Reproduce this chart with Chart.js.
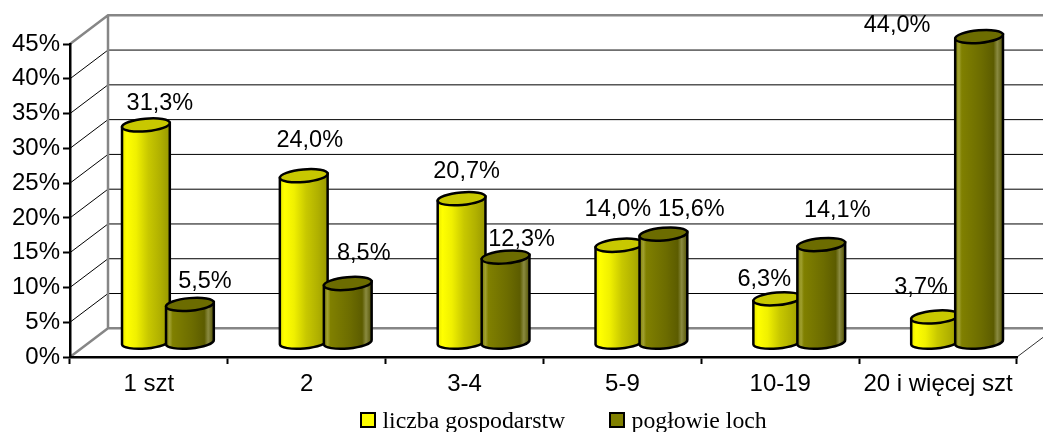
<!DOCTYPE html>
<html>
<head>
<meta charset="utf-8">
<style>
    html, body { margin: 0; background: #fff; }
    #wrap { width: 1043px; height: 432px; }
</style>
<script src="https://cdn.jsdelivr.net/npm/chart.js@4/dist/chart.umd.min.js"></script>
</head>
<body>
<div id="wrap"><canvas id="chart"></canvas></div>
<script>
// Values
const categories = ['1 szt', '2', '3-4', '5-9', '10-19', '20 i więcej szt'];
const householdShare = [31.3, 24.0, 20.7, 14.0, 6.3, 3.7];
const sowShare = [5.5, 8.5, 12.3, 15.6, 14.1, 44.0];
const seriesNames = ['liczba gospodarstw', 'pogłowie loch'];
const yTickLabels = ['0%', '5%', '10%', '15%', '20%', '25%', '30%', '35%', '40%', '45%'];

// Hand placed data labels in the original, so each one has its own nudge from the cylinder top
const householdLabelNudge = [[14, -21.5], [6, -35], [5, -27], [-1.5, -35.5], [-13, -19.5], [-14, -29.5]];
const sowLabelNudge = [[15, -22.5], [16, -30.5], [16, -17.5], [28, -24.5], [16, -34.5], [-82, -11.5]];

const DEPTH_X = 38;
const DEPTH_Y = 28.7;
const TILT = -0.09;
const TOP_RY = 6.3;
const FONT = '"Liberation Sans", Arial, sans-serif';

const yellowStops = [[0, '#e8e800'], [0.1, '#ffff00'], [0.3, '#f0f000'], [0.55, '#c8c800'], [0.8, '#b0b000'], [1, '#989800']];
const oliveStops = [[0, '#7a7a00'], [0.08, '#a0a030'], [0.14, '#808000'], [0.55, '#6c6c00'], [0.8, '#5c5c00'], [0.88, '#8a8a40'], [1, '#505000']];
const legendSwatchX = [361, 610];
const swatchColors = ['#ffff00', '#808000'];

function drawWalls(chart) {
    const { ctx, chartArea: { left, right }, scales: { y } } = chart;
    const backLeft = left + DEPTH_X;
    const backRight = right + DEPTH_X;

    ctx.save();
    // gridlines: diagonal on the side wall, then across the back wall
    ctx.strokeStyle = '#000';
    ctx.lineWidth = 1;
    y.ticks.forEach(tick => {
        if (tick.value === 0 || tick.value === 45) return;
        const py = y.getPixelForValue(tick.value);
        ctx.beginPath();
        ctx.moveTo(left, py);
        ctx.lineTo(backLeft, py - DEPTH_Y);
        ctx.lineTo(backRight, py - DEPTH_Y);
        ctx.stroke();
    });

    const top = y.getPixelForValue(45);
    const bottom = y.getPixelForValue(0);
    ctx.strokeStyle = '#868686';
    ctx.lineWidth = 2.5;
    ctx.beginPath();
    ctx.moveTo(left, top);
    ctx.lineTo(backLeft, top - DEPTH_Y);
    ctx.lineTo(backRight, top - DEPTH_Y);
    ctx.moveTo(backLeft, top - DEPTH_Y);
    ctx.lineTo(backLeft, bottom - DEPTH_Y);
    ctx.lineTo(backRight, bottom - DEPTH_Y);
    ctx.moveTo(left, bottom);
    ctx.lineTo(backLeft, bottom - DEPTH_Y);
    ctx.stroke();

    // front edge of the floor on the right
    ctx.strokeStyle = '#333';
    ctx.lineWidth = 1;
    ctx.beginPath();
    ctx.moveTo(right, bottom);
    ctx.lineTo(backRight, bottom - DEPTH_Y);
    ctx.stroke();
    ctx.restore();
}

function drawCylinder(ctx, bar, stops) {
    const rx = bar.width / 2;
    const cx = bar.x + DEPTH_X / 2;
    const topY = bar.y - DEPTH_Y / 2;
    const baseY = bar.base - DEPTH_Y / 2;
    const endX = rx * Math.cos(TILT);
    const endY = rx * Math.sin(TILT);

    const shade = ctx.createLinearGradient(cx - rx, 0, cx + rx, 0);
    stops.forEach(([at, color]) => shade.addColorStop(at, color));

    ctx.save();
    ctx.lineWidth = 2.5;
    ctx.strokeStyle = '#000';

    ctx.beginPath();
    ctx.moveTo(cx + endX, topY + endY);
    ctx.lineTo(cx + endX, baseY + endY);
    ctx.ellipse(cx, baseY, rx, TOP_RY, TILT, 0, Math.PI);
    ctx.lineTo(cx - endX, topY - endY);
    ctx.closePath();
    ctx.fillStyle = shade;
    ctx.fill();
    ctx.stroke();

    ctx.beginPath();
    ctx.ellipse(cx, topY, rx, TOP_RY, TILT, 0, Math.PI * 2);
    ctx.fillStyle = stops[3][1];
    ctx.fill();
    ctx.stroke();
    ctx.restore();
}

function drawLegend(ctx) {
    ctx.save();
    ctx.font = '23.75px "Liberation Serif", "Times New Roman", serif';
    ctx.textBaseline = 'alphabetic';
    seriesNames.forEach((name, i) => {
        ctx.fillStyle = swatchColors[i];
        ctx.strokeStyle = '#000';
        ctx.lineWidth = 2;
        ctx.fillRect(legendSwatchX[i], 413, 14, 14);
        ctx.strokeRect(legendSwatchX[i], 413, 14, 14);
        ctx.fillStyle = '#000';
        ctx.fillText(name, legendSwatchX[i] + 21.5, 428);
    });
    ctx.restore();
}

const cylinderPlugin = {
    id: 'cylinders',
    beforeDraw(chart) {
        drawWalls(chart);
    },
    beforeDatasetsDraw(chart) {
        const { ctx } = chart;
        const shades = [yellowStops, oliveStops];
        const nudges = [householdLabelNudge, sowLabelNudge];

        categories.forEach((_, i) => {
            shades.forEach((stops, d) => {
                drawCylinder(ctx, chart.getDatasetMeta(d).data[i], stops);
            });
        });

        ctx.save();
        ctx.font = `23.5px ${FONT}`;
        ctx.fillStyle = '#000';
        ctx.textAlign = 'center';
        ctx.textBaseline = 'middle';
        nudges.forEach((nudge, d) => {
            const meta = chart.getDatasetMeta(d);
            const values = chart.data.datasets[d].data;
            meta.data.forEach((bar, i) => {
                const text = values[i].toFixed(1).replace('.', ',') + '%';
                ctx.fillText(text, bar.x + DEPTH_X / 2 + nudge[i][0], bar.y - DEPTH_Y / 2 + nudge[i][1]);
            });
        });
        ctx.restore();

        drawLegend(ctx);

        // cylinders and labels are done here, skip the flat bars
        return false;
    }
};

new Chart(document.getElementById('chart'), {
    type: 'bar',
    data: {
        labels: categories,
        datasets: [
            { label: seriesNames[0], data: householdShare, backgroundColor: swatchColors[0], borderColor: '#000', borderWidth: 2 },
            { label: seriesNames[1], data: sowShare, backgroundColor: swatchColors[1], borderColor: '#000', borderWidth: 2 }
        ]
    },
    options: {
        responsive: true,
        maintainAspectRatio: false,
        animation: false,
        categoryPercentage: 0.5577,
        barPercentage: 1.09,
        layout: { padding: { left: 0, right: 26, top: 44, bottom: 0 } },
        plugins: {
            tooltip: { enabled: false },
            legend: { display: false }
        },
        scales: {
            x: {
                grid: { display: true, drawOnChartArea: false, drawTicks: true, tickColor: '#000', tickWidth: 2, tickLength: 7 },
                border: { display: true, color: '#000', width: 2.5 },
                ticks: { color: '#000', font: { family: FONT, size: 24 }, maxRotation: 0, autoSkip: false, padding: 6 },
                afterFit: scale => { scale.height = 75; }
            },
            y: {
                min: 0,
                max: 45,
                grid: { display: true, drawOnChartArea: false, drawTicks: true, tickColor: '#000', tickWidth: 2, tickLength: 7 },
                border: { display: true, color: '#000', width: 2.5 },
                ticks: {
                    stepSize: 5,
                    color: '#000',
                    font: { family: FONT, size: 24 },
                    padding: 3,
                    callback: (value, index) => yTickLabels[index]
                },
                afterFit: scale => { scale.width = 70; }
            }
        }
    },
    plugins: [cylinderPlugin]
});
</script>
</body>
</html>
